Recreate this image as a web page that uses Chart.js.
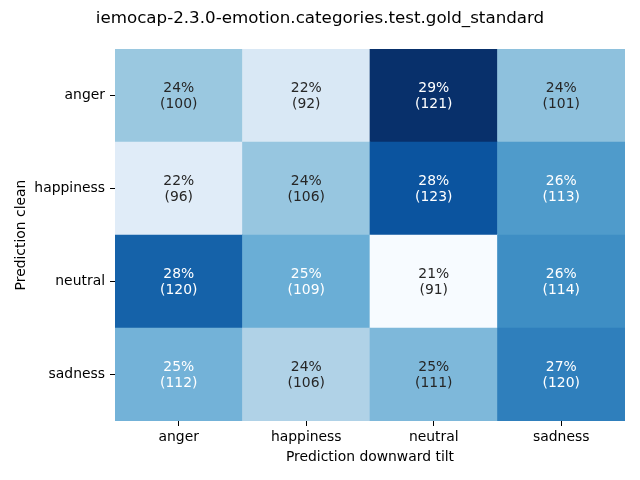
<!DOCTYPE html>
<html>
<head>
<meta charset="utf-8">
<script src="https://cdn.jsdelivr.net/npm/chart.js@4.4.1/dist/chart.umd.min.js"></script>
<style>
html,body{margin:0;padding:0;background:#fff;}
#wrap{width:640px;height:480px;}
</style>
</head>
<body>
<div id="wrap"><canvas id="c" width="640" height="480"></canvas></div>
<script>
const titleText = "iemocap-2.3.0-emotion.categories.test.gold_standard";
const rowLabels = ["anger", "happiness", "neutral", "sadness"];   // Prediction clean (rows, top to bottom)
const colLabels = ["anger", "happiness", "neutral", "sadness"];   // Prediction downward tilt (columns)
const angerRow = [100, 92, 121, 101];
const happinessRow = [96, 106, 123, 113];
const neutralRow = [120, 109, 91, 114];
const sadnessRow = [112, 106, 111, 120];
const counts = [angerRow, happinessRow, neutralRow, sadnessRow];
const xTitle = "Prediction downward tilt";
const yTitle = "Prediction clean";

// row-normalised percentages
const pcts = counts.map(r => { const s = r.reduce((a, b) => a + b, 0); return r.map(v => 100 * v / s); });
const allP = pcts.flat();
const vmin = Math.min(...allP), vmax = Math.max(...allP);

const blues = [[247,251,255],[222,235,247],[198,219,239],[158,202,225],[107,174,214],[66,146,198],[33,113,181],[8,81,156],[8,48,107]];
function bluesColor(t) {
  t = Math.max(0, Math.min(1, t));
  const p = t * (blues.length - 1);
  const i = Math.min(Math.floor(p), blues.length - 2);
  const f = p - i;
  return blues[i].map((c, k) => Math.round(c + (blues[i + 1][k] - c) * f));
}
function lum(rgb) {
  const c = rgb.map(v => { v /= 255; return v <= 0.03928 ? v / 12.92 : Math.pow((v + 0.055) / 1.055, 2.4); });
  return 0.2126 * c[0] + 0.7152 * c[1] + 0.0722 * c[2];
}
const cellRGB = pcts.map(r => r.map(p => bluesColor((p - vmin) / (vmax - vmin))));

// datasets: bottom row first (stacked from y=0 upward)
const nR = rowLabels.length;
const datasets = [];
for (let k = nR - 1; k >= 0; k--) {
  datasets.push({
    label: rowLabels[k],
    rowIndex: k,
    data: colLabels.map(() => 1),
    backgroundColor: cellRGB[k].map(c => `rgb(${c[0]},${c[1]},${c[2]})`),
    borderWidth: 0,
    barPercentage: 1,
    categoryPercentage: 1
  });
}

const FONT = "'DejaVu Sans', sans-serif";

const annotPlugin = {
  id: 'annot',
  afterDatasetsDraw(chart) {
    const ctx = chart.ctx;
    ctx.save();
    ctx.font = "13.9px " + FONT;
    ctx.textAlign = 'center';
    ctx.textBaseline = 'middle';
    chart.data.datasets.forEach((ds, di) => {
      const meta = chart.getDatasetMeta(di);
      const r = ds.rowIndex;
      meta.data.forEach((el, ci) => {
        const cx = el.x, cy = (el.y + el.base) / 2;
        const rgb = cellRGB[r][ci];
        ctx.fillStyle = lum(rgb) > 0.408 ? '#262626' : '#ffffff';
        ctx.fillText(Math.round(pcts[r][ci]) + '%', cx, cy - 7.5);
        ctx.fillText('(' + counts[r][ci] + ')', cx, cy + 8.5);
      });
    });
    ctx.restore();
  }
};

new Chart(document.getElementById('c'), {
  type: 'bar',
  data: { labels: colLabels, datasets },
  options: {
    responsive: false,
    animation: false,
    layout: { padding: { left: 0, right: 0, top: 0, bottom: 0 } },
    plugins: {
      legend: { display: false },
      tooltip: { enabled: false },
      title: {
        display: true, text: titleText, color: '#000',
        font: { family: FONT, size: 16.7, weight: 'normal' },
        padding: { top: 9, bottom: 20 }
      }
    },
    scales: {
      x: {
        stacked: true,
        grid: { display: true, drawOnChartArea: false, offset: false, tickLength: 5, color: '#000', tickColor: '#000' },
        border: { display: false },
        ticks: { color: '#000', font: { family: FONT, size: 13.9 }, padding: 3, maxRotation: 0 },
        title: { display: true, text: xTitle, color: '#000', font: { family: FONT, size: 13.9 }, padding: { top: 0, bottom: 14 } },
        afterFit(s) { s.height = 59; }
      },
      y: {
        stacked: true, min: 0, max: nR,
        grid: { display: true, drawOnChartArea: false, tickLength: 5, color: '#000', tickColor: '#000' },
        border: { display: false },
        afterBuildTicks(s) { s.ticks = rowLabels.map((_, i) => ({ value: i + 0.5 })); },
        ticks: {
          color: '#000', font: { family: FONT, size: 13.9 }, padding: 5,
          callback: (v) => rowLabels[nR - 1 - Math.floor(v)]
        },
        title: { display: true, text: yTitle, color: '#000', font: { family: FONT, size: 13.9 }, padding: { top: 13, bottom: 0 } },
        afterFit(s) { s.width = 115; }
      },
      yPad: {
        type: 'linear', position: 'right', display: true,
        grid: { display: false }, border: { display: false },
        ticks: { display: false },
        afterFit(s) { s.width = 15; }
      }
    }
  },
  plugins: [annotPlugin]
});
</script>
</body>
</html>
